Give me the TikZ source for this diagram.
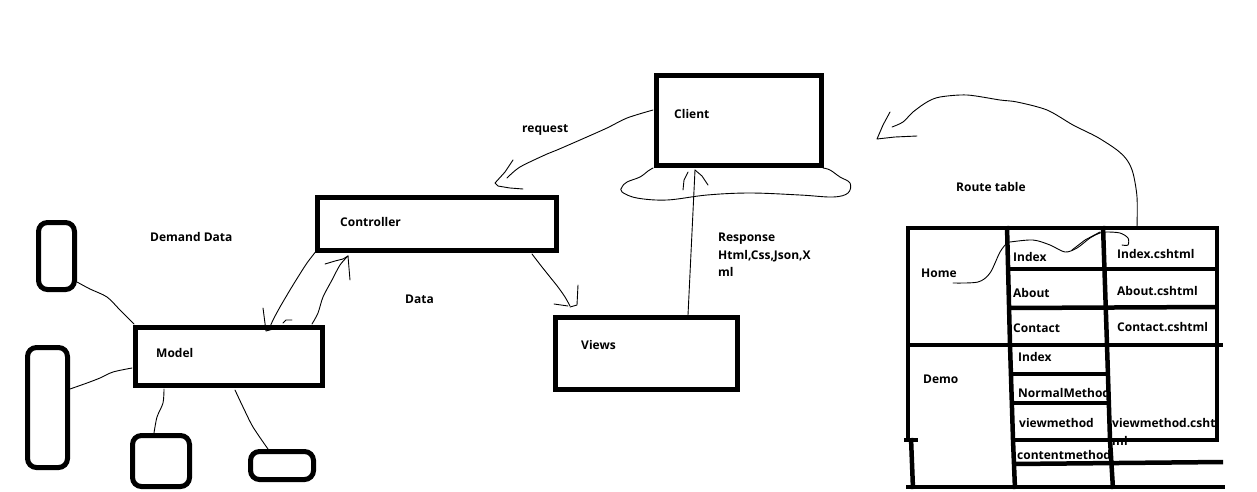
\documentclass[tikz,border=0pt]{standalone}
\usepackage{fontspec}
\setmainfont{Open Sans}
\begin{document}
\begin{tikzpicture}[x=1pt,y=-1pt,
  box/.style={draw=black, line width=5pt, inner sep=0pt, outer sep=0pt, anchor=north west},
  rbox/.style={box, rounded corners=9pt},
  lbl/.style={anchor=base west, inner sep=0pt, font=\bfseries\fontsize{12}{14}\selectfont},
  thin/.style={line width=0.9pt, line cap=round, line join=round},
  grid/.style={line width=4.5pt, line cap=butt}]
\useasboundingbox (0,0) rectangle (1257,491);
\fill[white] (0,0) rectangle (1257,491);

% main boxes
\node[box, minimum width=165pt, minimum height=90pt] (client) at (656,75) {};
\node[box, minimum width=239pt, minimum height=53pt] (ctrl) at (317,197) {};
\node[box, minimum width=187pt, minimum height=58pt] (model) at (135.5,327.5) {};
\node[box, minimum width=182pt, minimum height=72pt] (views) at (555.5,317.5) {};
% small rounded boxes
\node[rbox, minimum width=36pt, minimum height=67pt] (ba) at (38.5,222.5) {};
\node[rbox, minimum width=40pt, minimum height=120pt] (bb) at (27.5,347.5) {};
\node[rbox, minimum width=57pt, minimum height=51pt] (bc) at (132.5,435.5) {};
\node[rbox, minimum width=63pt, minimum height=28pt] (bd) at (250.5,451.5) {};

% labels
\node[lbl] (tclient) at (674,118.5) {Client};
\node[lbl] (tctrl) at (340,226.5) {Controller};
\node[lbl] (tmodel) at (156,357.5) {Model};
\node[lbl] (tviews) at (581,349.5) {Views};
\node[lbl] (tdemand) at (150,241.5) {Demand Data};
\node[lbl] (tdata) at (405,303.5) {Data};
\node[lbl] (treq) at (522,132) {request};
\node[lbl] (tresp1) at (718,241) {Response};
\node[lbl] (tresp2) at (718,259) {Html,Css,Json,X};
\node[lbl] (tresp3) at (718,276.5) {ml};
\node[lbl] (troute) at (956,191.5) {Route table};

% route table texts
\node[lbl] (thome) at (921,277.5) {Home};
\node[lbl] (tdemo) at (923,383.5) {Demo};
\node[lbl] (r1) at (1013,261.5) {Index};
\node[lbl] (r2) at (1013,297.5) {About};
\node[lbl] (r3) at (1013,332.5) {Contact};
\node[lbl] (r4) at (1018,361.5) {Index};
\node[lbl] (r5) at (1018,397.5) {NormalMethod};
\node[lbl] (r6) at (1019,427.5) {viewmethod};
\node[lbl] (r7) at (1017,459.5) {contentmethod};
\node[lbl] (v1) at (1117,258.5) {Index.cshtml};
\node[lbl] (v2) at (1117,295.5) {About.cshtml};
\node[lbl] (v3) at (1117,331.5) {Contact.cshtml};
\node[lbl] (v4) at (1112,427.5) {viewmethod.csht};
\node[lbl] (v5) at (1112,445) {ml};

% route table grid
\draw[grid] (906,228) -- (1219,228);
\draw[grid] (908,226) -- (908,440);
\draw[grid] (911,438) -- (913,489);
\draw[grid] (904,440) -- (918,440);
\draw[grid] (1007,226) -- (1010,345) -- (1013,440) -- (1015,489);
\draw[grid] (1103,226) -- (1107,345) -- (1110,440) -- (1113,489);
\draw[grid] (1217,226) -- (1217,442);
\draw[grid] (1007,269) -- (1217,269);
\draw[grid] (1008,308) -- (1217,307);
\draw[grid] (906,345) -- (1223,345);
\draw[grid] (1010,374) -- (1108,374);
\draw[grid] (1011,403) -- (1110,403);
\draw[grid] (1012,440) -- (1219,440);
\draw[grid] (1013,464) -- (1223,462);
\draw[grid] (906,487) -- (1225,487);

% laptop base
\coordinate (lb1) at (client.south west);
\coordinate (lb2) at (client.south east);
\draw[thin] plot[smooth, tension=0.6] coordinates {(653,168) (648,171) (640,177) (627,182) (622,187) (622,192) (637,198) (667,200) (707,195) (750,193) (800,195) (833,197) (848,193) (850,183) (840,177) (830,170) (823,168)};

% request: client -> controller
\coordinate (rq0) at (653,110);
\coordinate (rqtip) at (495,184);
\draw[thin] plot[smooth, tension=0.5] coordinates {(rq0) (627,118) (607,128) (580,140) (557,150) (547,154) (520,167) (507,178)};
\draw[thin] (513,160) -- (505,172) -- (495,183) -- (498,186) -- (510,188) -- (523,189);

% controller -> views
\coordinate (cv0) at (532,254);
\draw[thin] plot[smooth, tension=0.5] coordinates {(cv0) (542,267) (550,277) (558,287) (565,297) (570,306)};
\draw[thin] (578,285) -- (577,305) -- (570,307);
\draw[thin] (554,304) -- (568,306);

% response: views -> client
\coordinate (rs0) at (688,315);
\coordinate (rs1) at (695,170);
\draw[thin] (rs0) -- (rs1);
\draw[thin] (683,190) -- (684,180) -- (688,172);
\draw[thin] (695,170) -- (702,176) -- (708,185);

% controller -> model (demand)
\draw[thin] plot[smooth, tension=0.5] coordinates {(ctrl.south west) (307,263) (298,277) (290,290) (280,307) (273,320) (270,327)};
\draw[thin] (263,308) -- (266,331) -- (277,328);
\draw[thin] (283,323) -- (286,320) -- (292,320);
% model -> controller (data)
\coordinate (md0) at (312,324);
\draw[thin] plot[smooth, tension=0.5] coordinates {(md0) (318,313) (323,297) (332,280) (340,265) (348,256)};
\draw[thin] (325,264) -- (335,261) -- (343,259) -- (348,256);
\draw[thin] (348,256) -- (350,280);

% model to small boxes
\draw[thin] plot[smooth, tension=0.5] coordinates {(77,282) (90,289) (107,297) (120,310) (134,324)};
\draw[thin] plot[smooth, tension=0.5] coordinates {(70,389) (87,383) (100,378) (113,372) (132,368)};
\draw[thin] plot[smooth, tension=0.5] coordinates {(154,433) (157,417) (163,403) (164,389)};
\draw[thin] plot[smooth, tension=0.5] coordinates {(268,449) (253,427) (243,407) (235,390)};

% route table -> client
\coordinate (rt0) at (1137,227);
\draw[thin] plot[smooth, tension=0.5] coordinates {(rt0) (1137,197) (1133,173) (1127,160) (1117,150) (1097,137) (1073,125) (1047,110) (1017,102) (1000,100) (967,95) (940,97) (927,102) (913,112) (903,122) (892,127)};
\draw[thin] (890,112) -- (883,125) -- (877,139) -- (895,137) -- (917,136);

% scribble over table
\draw[thin] plot[smooth, tension=0.5] coordinates {(953,283) (978,282) (990,273) (1000,252) (1007,243) (1010,242) (1033,240) (1050,245) (1065,252) (1077,248) (1090,238) (1100,233) (1107,232) (1120,233) (1128,238) (1128,245) (1122,245)};
\draw[thin] (1072,250) -- (1085,240) -- (1100,232);
\end{tikzpicture}
\end{document}
